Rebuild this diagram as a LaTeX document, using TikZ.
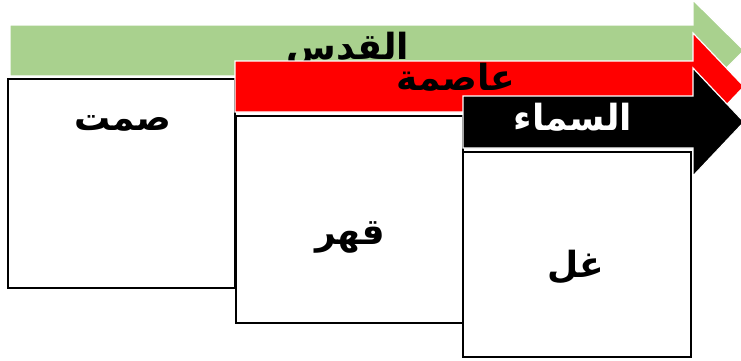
\documentclass[tikz,border=0pt]{standalone}
\usepackage{fontspec}
\TeXXeTstate=1
\newfontfamily\arabicfont[Script=Arabic]{DejaVu Sans}
\definecolor{bandgreen}{HTML}{A9D18E}
\definecolor{bandred}{HTML}{FF0000}
\tikzset{
  band/.style={draw=white, line width=1.2pt},
  box/.style={draw=black, fill=white, line width=2.2pt, rectangle, inner sep=0pt},
  lbl/.style={font=\arabicfont\bfseries\fontsize{36}{40}\selectfont, inner sep=0pt},
}
\begin{document}
\begin{tikzpicture}[x=1pt,y=-1pt]
\useasboundingbox (0,0) rectangle (741,360);
\clip (0,0) rectangle (741,360);
% green band
\draw[band, fill=bandgreen] (10,25) -- (693,25) -- (693,0) -- (744,50.5) -- (693,101) -- (693,76) -- (10,76) -- cycle;
\node[lbl, text=black] (t1) at (348,50) {\beginR القدس\endR};
% box 1
\node[box, minimum width=227pt, minimum height=209pt] (b1) at (121.5,183.5) {};
\node[lbl, text=black] (s1) at (123,123) {\beginR صمت\endR};
% red band
\draw[band, fill=bandred] (235,61) -- (693,61) -- (693,33) -- (744,86.5) -- (693,140) -- (693,112) -- (235,112) -- cycle;
\node[lbl, text=black] (t2) at (456,77) {\beginR عاصمة\endR};
% box 2
\node[box, minimum width=227pt, minimum height=207pt] (b2) at (349.5,219.5) {};
\node[lbl, text=black] (s2) at (350,237) {\beginR قهر\endR};
% black band
\draw[band, fill=black] (463,96) -- (693,96) -- (693,68) -- (744,122) -- (693,176) -- (693,148) -- (463,148) -- cycle;
\node[lbl, text=white] (t3) at (573,117) {\beginR السماء\endR};
% box 3
\node[box, minimum width=228pt, minimum height=205pt] (b3) at (577,254.5) {};
\node[lbl, text=black] (s3) at (576,267) {\beginR غل\endR};
\end{tikzpicture}
\end{document}
